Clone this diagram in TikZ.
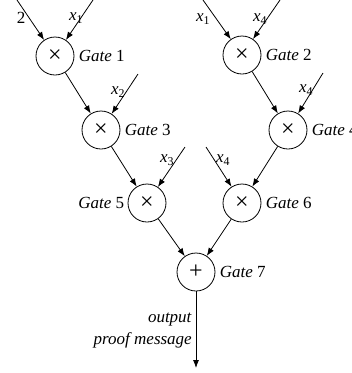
\documentclass[tikz,border=0pt]{standalone}
\usepackage{fontspec}
\setmainfont{Liberation Serif}
\usetikzlibrary{arrows.meta}
\tikzset{
  gate/.style={draw, circle, line width=0.8pt, minimum size=38pt, inner sep=0pt, font=\fontsize{24}{24}\selectfont},
  wire/.style={line width=0.8pt, -{Latex[length=8pt,width=6pt]}},
  every node/.style={font=\fontsize{17}{20}\selectfont},
  every label/.style={font=\fontsize{17}{20}\selectfont},
  inlab/.style={inner sep=0pt},
}
\newcommand{\gt}[1]{\textit{Gate}~#1}
\newcommand{\xv}[1]{\textit{x}\textsubscript{#1}}
\begin{document}
\begin{tikzpicture}[x=1pt,y=-1pt]
\useasboundingbox (0,0) rectangle (352,373);
\clip (0,0) rectangle (352,373);
% gates
\node[gate, label={[label distance=1pt]right:\gt{1}}] (g1) at (55,56) {×};
\node[gate, label={[label distance=1pt]right:\gt{2}}] (g2) at (242,55) {×};
\node[gate, label={[label distance=1pt]right:\gt{3}}] (g3) at (101,130) {×};
\node[gate, label={[label distance=1pt]right:\gt{4}}] (g4) at (288,130) {×};
\node[gate, label={[label distance=0pt]left:\gt{5}}] (g5) at (147,203) {×};
\node[gate, label={[label distance=1pt]right:\gt{6}}] (g6) at (242,203) {×};
\node[gate, label={[label distance=1pt]right:\gt{7}}] (g7) at (196,272) {+};
% input starts
\coordinate (i1a) at (17,0);
\coordinate (i1b) at (93,0);
\coordinate (i2a) at (203,0);
\coordinate (i2b) at (280,0);
\coordinate (i3) at (138,74);
\coordinate (i4) at (323,73);
\coordinate (i5) at (185,147);
\coordinate (i6) at (206,147);
\coordinate (out) at (196,368);
% input labels
\node[inlab] (l1a) at (21,18) {2};
\node[inlab] (l1b) at (76,18) {\xv{1}};
\node[inlab] (l2a) at (203,19) {\xv{1}};
\node[inlab] (l2b) at (260,19) {\xv{4}};
\node[inlab] (l3) at (118,92) {\xv{2}};
\node[inlab] (l4) at (306,90) {\xv{4}};
\node[inlab] (l5) at (167,160) {\xv{3}};
\node[inlab] (l6) at (223,160) {\xv{4}};
% wires
\draw[wire] (i1a) -- (g1);
\draw[wire] (i1b) -- (g1);
\draw[wire] (i2a) -- (g2);
\draw[wire] (i2b) -- (g2);
\draw[wire] (g1) -- (g3);
\draw[wire] (i3) -- (g3);
\draw[wire] (g2) -- (g4);
\draw[wire] (i4) -- (g4);
\draw[wire] (g3) -- (g5);
\draw[wire] (i5) -- (g5);
\draw[wire] (i6) -- (g6);
\draw[wire] (g4) -- (g6);
\draw[wire] (g5) -- (g7);
\draw[wire] (g6) -- (g7);
\draw[wire] (g7) -- (out);
\node[inlab, anchor=east] (o1) at (192,320) {\textit{output}};
\node[inlab, anchor=east] (o2) at (192,340) {\textit{proof message}};
\end{tikzpicture}
\end{document}
